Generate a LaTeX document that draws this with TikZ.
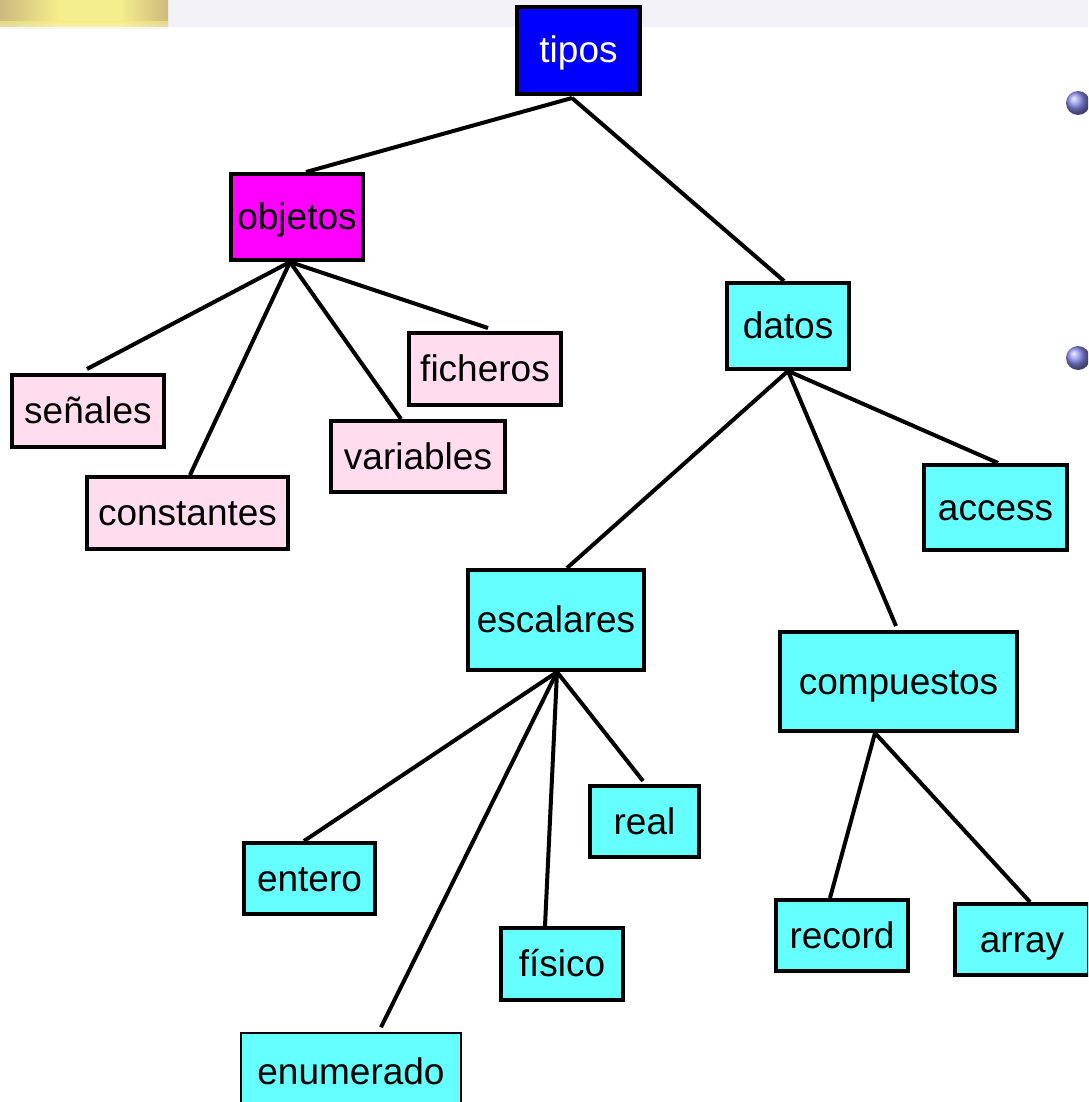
\documentclass[tikz,border=0pt]{standalone}
\usepackage{fontspec}
\setmainfont{Liberation Sans}
\usetikzlibrary{calc}
\definecolor{band}{RGB}{242,242,247}
\definecolor{pinkfill}{RGB}{255,221,238}
\definecolor{cyanfill}{RGB}{102,255,255}
\definecolor{magfill}{RGB}{255,0,255}
\definecolor{bluefill}{RGB}{0,0,255}
\definecolor{blobY}{RGB}{245,238,140}
\definecolor{blobB}{RGB}{205,185,125}
\definecolor{bulletc}{RGB}{140,140,238}
\tikzset{
  box/.style={draw=black, line width=4pt, inner sep=0pt, font=\fontsize{37}{42}\selectfont, text=black, text height=33pt, text depth=8pt},
  pinkbox/.style={box, fill=pinkfill},
  cyanbox/.style={box, fill=cyanfill},
  link/.style={draw=black, line width=4pt},
}
\begin{document}
\begin{tikzpicture}[x=1pt,y=-1pt]
\useasboundingbox (0,0) rectangle (1088,1102);
\begin{scope}
\clip (0,0) rectangle (1088,1102);
\fill[white] (0,0) rectangle (1088,1102);
% top band and blob
\fill[band] (0,0) rectangle (1088,27);
\shade[left color=blobB, right color=blobY] (0,0) rectangle (60,27);
\fill[blobY] (60,0) rectangle (120,27);
\shade[left color=blobY, right color=blobB] (120,0) rectangle (168,27);
\shade[top color=blobY, bottom color=band, opacity=0.6] (0,22) rectangle (168,29);
% bullets
\shade[ball color=bulletc] (1078,103) circle (12);
\shade[ball color=bulletc] (1078,358) circle (12);

% nodes
\node[box, fill=bluefill, text=white, minimum width=123pt, minimum height=87pt] (tipos) at (578.5,50.5) {tipos};
\node[box, fill=magfill, minimum width=132pt, minimum height=86pt] (objetos) at (297,217) {objetos};
\node[cyanbox, minimum width=122pt, minimum height=86pt] (datos) at (788,326) {datos};
\node[pinkbox, minimum width=152pt, minimum height=72pt] (senales) at (88,411) {señales};
\node[pinkbox, minimum width=201pt, minimum height=72pt] (constantes) at (187.5,513) {constantes};
\node[pinkbox, minimum width=174pt, minimum height=71pt] (variables) at (418,456.5) {variables};
\node[pinkbox, minimum width=152pt, minimum height=72pt] (ficheros) at (485,369) {ficheros};
\node[cyanbox, minimum width=143pt, minimum height=85pt] (access) at (995.5,507.5) {access};
\node[cyanbox, minimum width=176pt, minimum height=100pt] (escalares) at (556,620) {escalares};
\node[cyanbox, minimum width=237pt, minimum height=99pt] (compuestos) at (898.5,681.5) {compuestos};
\node[cyanbox, minimum width=131pt, minimum height=71pt] (entero) at (309.5,878.5) {entero};
\node[cyanbox, minimum width=109pt, minimum height=71pt] (real) at (644.5,821.5) {real};
\node[cyanbox, minimum width=122pt, minimum height=72pt] (fisico) at (562,964) {físico};
\node[cyanbox, line width=1.5pt, minimum width=220pt, minimum height=78pt] (enumerado) at (351,1072) {enumerado};
\node[cyanbox, minimum width=132pt, minimum height=71pt] (record) at (842,935.5) {record};
\node[cyanbox, minimum width=134pt, minimum height=71pt] (array) at (1022,939.5) {array};

% connectors
\draw[link] ($(tipos.south)+(-6.5,2)$) -- ($(objetos.north)+(9,0)$);
\draw[link] ($(tipos.south)+(-6.5,2)$) -- ($(datos.north)+(-4,0)$);
\draw[link] ($(objetos.south)+(-7,0)$) -- ($(senales.north)+(-1,-4)$);
\draw[link] ($(objetos.south)+(-7,0)$) -- ($(constantes.north)+(2.5,0)$);
\draw[link] ($(objetos.south)+(-7,0)$) -- ($(variables.north)+(-17,0)$);
\draw[link] ($(objetos.south)+(-7,0)$) -- ($(ficheros.north)+(3,-3)$);
\draw[link] (datos.south) -- ($(escalares.north)+(11,0)$);
\draw[link] (datos.south) -- ($(compuestos.north)+(-2.5,-4)$);
\draw[link] (datos.south) -- ($(access.north)+(2.5,0)$);
\draw[link] ($(escalares.south)+(1,0)$) -- ($(entero.north)+(-5.5,0)$);
\draw[link] ($(escalares.south)+(1,0)$) -- ($(enumerado.north)+(30,-5)$);
\draw[link] ($(escalares.south)+(1,0)$) -- ($(fisico.north)+(-17,0)$);
\draw[link] ($(escalares.south)+(1,0)$) -- ($(real.north)+(-1.5,-3)$);
\draw[link] ($(compuestos.south)+(-23.5,0)$) -- ($(record.north)+(-12,0)$);
\draw[link] ($(compuestos.south)+(-23.5,0)$) -- ($(array.north)+(8,0)$);
\end{scope}
\end{tikzpicture}
\end{document}
